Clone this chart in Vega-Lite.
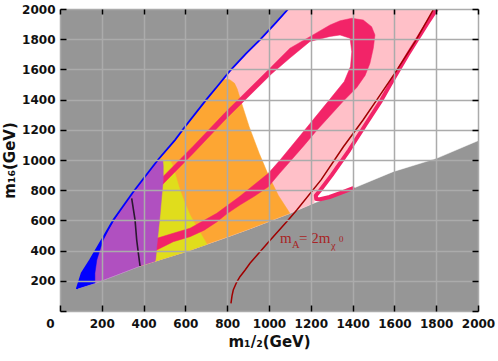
{
  "$schema": "https://vega.github.io/schema/vega-lite/v6.json",
  "width": 418,
  "height": 302,
  "autosize": {"type": "none"},
  "padding": {"left": 60, "top": 9, "right": 20, "bottom": 50},
  "background": "white",
  "config": {"view": {"stroke": null, "fill": "#969696"}},
  "datasets": {
    "allowed": [{"x":80,"y":146},{"x":104,"y":250},{"x":144,"y":338},{"x":200,"y":470},{"x":255,"y":603},{"x":351,"y":790},{"x":468,"y":1000},{"x":550,"y":1132},{"x":598,"y":1220},{"x":700,"y":1400},{"x":760,"y":1500},{"x":813,"y":1590},{"x":890,"y":1705},{"x":960,"y":1800},{"x":1030,"y":1905},{"x":1092,"y":2000},{"x":2000,"y":2000},{"x":2000,"y":1128},{"x":1802,"y":1011},{"x":1594,"y":923},{"x":1403,"y":813},{"x":1212,"y":713},{"x":1100,"y":647},{"x":909,"y":545},{"x":800,"y":490},{"x":606,"y":395},{"x":455,"y":330},{"x":383,"y":298},{"x":167,"y":183}],
    "pink": [{"x":351,"y":790},{"x":468,"y":1000},{"x":550,"y":1132},{"x":598,"y":1220},{"x":700,"y":1400},{"x":760,"y":1500},{"x":813,"y":1590},{"x":890,"y":1705},{"x":960,"y":1800},{"x":1030,"y":1905},{"x":1092,"y":2000},{"x":1803,"y":2000},{"x":1755,"y":1900},{"x":1710,"y":1800},{"x":1665,"y":1700},{"x":1622,"y":1600},{"x":1580,"y":1500},{"x":1538,"y":1397},{"x":1460,"y":1230},{"x":1384,"y":1066},{"x":1300,"y":900},{"x":1245,"y":800},{"x":1222,"y":760},{"x":1215,"y":716},{"x":1100,"y":647},{"x":909,"y":545},{"x":800,"y":490},{"x":606,"y":395},{"x":455,"y":330},{"x":383,"y":298}],
    "hole": [{"x":463,"y":481},{"x":542,"y":515},{"x":622,"y":548},{"x":750,"y":647},{"x":861,"y":760},{"x":997,"y":912},{"x":1053,"y":1000},{"x":1172,"y":1200},{"x":1290,"y":1400},{"x":1360,"y":1520},{"x":1390,"y":1620},{"x":1396,"y":1717},{"x":1388,"y":1806},{"x":1340,"y":1828},{"x":1292,"y":1818},{"x":1196,"y":1785},{"x":1100,"y":1675},{"x":1013,"y":1572},{"x":790,"y":1266},{"x":636,"y":1042},{"x":478,"y":820}],
    "orange": [{"x":351,"y":790},{"x":468,"y":1000},{"x":550,"y":1132},{"x":598,"y":1220},{"x":700,"y":1400},{"x":760,"y":1500},{"x":782,"y":1535},{"x":812,"y":1532},{"x":835,"y":1508},{"x":848,"y":1470},{"x":869,"y":1376},{"x":905,"y":1221},{"x":953,"y":1044},{"x":1000,"y":890},{"x":1045,"y":765},{"x":1100,"y":647},{"x":909,"y":545},{"x":800,"y":490},{"x":606,"y":395},{"x":455,"y":330},{"x":383,"y":298}],
    "yellow": [{"x":455,"y":1000},{"x":526,"y":1000},{"x":540,"y":960},{"x":550,"y":912},{"x":574,"y":801},{"x":598,"y":713},{"x":622,"y":636},{"x":654,"y":558},{"x":686,"y":483},{"x":703,"y":442},{"x":606,"y":395},{"x":455,"y":330}],
    "ring": [{"x":440,"y":842},{"x":478,"y":869},{"x":636,"y":1090},{"x":790,"y":1314},{"x":1013,"y":1620},{"x":1100,"y":1740},{"x":1196,"y":1817},{"x":1292,"y":1894},{"x":1340,"y":1922},{"x":1396,"y":1939},{"x":1451,"y":1927},{"x":1491,"y":1883},{"x":1507,"y":1828},{"x":1499,"y":1740},{"x":1483,"y":1640},{"x":1460,"y":1560},{"x":1420,"y":1480},{"x":1356,"y":1390},{"x":1290,"y":1290},{"x":1231,"y":1200},{"x":1170,"y":1100},{"x":1107,"y":1000},{"x":1050,"y":910},{"x":997,"y":823},{"x":930,"y":760},{"x":861,"y":702},{"x":800,"y":645},{"x":750,"y":590},{"x":690,"y":535},{"x":622,"y":492},{"x":542,"y":459},{"x":463,"y":404},{"x":440,"y":398},{"x":440,"y":478},{"x":463,"y":481},{"x":542,"y":515},{"x":622,"y":548},{"x":750,"y":647},{"x":861,"y":760},{"x":997,"y":912},{"x":1053,"y":1000},{"x":1172,"y":1200},{"x":1290,"y":1400},{"x":1360,"y":1520},{"x":1390,"y":1620},{"x":1396,"y":1717},{"x":1388,"y":1806},{"x":1340,"y":1828},{"x":1292,"y":1818},{"x":1196,"y":1785},{"x":1100,"y":1675},{"x":1013,"y":1572},{"x":790,"y":1266},{"x":636,"y":1042},{"x":478,"y":820},{"x":440,"y":800}],
    "strip": [{"x":1803,"y":2000},{"x":1755,"y":1900},{"x":1710,"y":1800},{"x":1665,"y":1700},{"x":1622,"y":1600},{"x":1580,"y":1500},{"x":1538,"y":1397},{"x":1460,"y":1230},{"x":1384,"y":1066},{"x":1300,"y":900},{"x":1245,"y":800},{"x":1224,"y":765},{"x":1226,"y":742},{"x":1245,"y":740},{"x":1290,"y":755},{"x":1340,"y":780},{"x":1400,"y":812}],
    "purple": [{"x":80,"y":146},{"x":104,"y":250},{"x":144,"y":338},{"x":200,"y":470},{"x":255,"y":603},{"x":351,"y":790},{"x":468,"y":1000},{"x":492,"y":1000},{"x":494,"y":960},{"x":494,"y":868},{"x":486,"y":750},{"x":478,"y":625},{"x":470,"y":520},{"x":463,"y":426},{"x":458,"y":345},{"x":455,"y":330},{"x":383,"y":298},{"x":167,"y":183}],
    "blue": [{"x":80,"y":146},{"x":104,"y":250},{"x":144,"y":338},{"x":200,"y":470},{"x":255,"y":603},{"x":285,"y":661},{"x":255,"y":595},{"x":231,"y":536},{"x":207,"y":470},{"x":191,"y":404},{"x":176,"y":338},{"x":167,"y":250},{"x":167,"y":183}],
    "upper": [{"x":80,"y":146},{"x":104,"y":250},{"x":144,"y":338},{"x":200,"y":470},{"x":255,"y":603},{"x":351,"y":790},{"x":468,"y":1000},{"x":550,"y":1132},{"x":598,"y":1220},{"x":700,"y":1400},{"x":760,"y":1500},{"x":813,"y":1590},{"x":890,"y":1705},{"x":960,"y":1800},{"x":1030,"y":1905},{"x":1092,"y":2000}],
    "black": [{"x":343,"y":746},{"x":359,"y":603},{"x":367,"y":470},{"x":375,"y":382},{"x":383,"y":298}],
    "darkred": [{"x":818,"y":50},{"x":823,"y":100},{"x":829,"y":139},{"x":845,"y":190},{"x":861,"y":227},{"x":885,"y":270},{"x":909,"y":316},{"x":1000,"y":460},{"x":1092,"y":603},{"x":1133,"y":669},{"x":1250,"y":870},{"x":1356,"y":1088},{"x":1450,"y":1265},{"x":1515,"y":1397},{"x":1600,"y":1570},{"x":1700,"y":1785},{"x":1788,"y":2000}],
    "lowerline": [{"x":80,"y":146},{"x":167,"y":183},{"x":383,"y":298},{"x":455,"y":330},{"x":606,"y":395},{"x":800,"y":490},{"x":909,"y":545},{"x":1100,"y":647},{"x":1212,"y":713},{"x":1403,"y":813},{"x":1594,"y":923},{"x":1802,"y":1011},{"x":2000,"y":1128}],
    "txtBig": [{"x":1053,"y":450,"t":"m"},{"x":1144,"y":450,"t":"= 2m"}],
    "txtSub": [{"x":1110,"y":417,"t":"A"},{"x":1297,"y":411,"t":"χ"}],
    "txtSup": [{"x":1335,"y":457,"t":"0"}]
  },
  "encoding": {
    "x": {"field": "x", "type": "quantitative", "scale": {"domain": [0, 2000], "nice": false, "zero": false}, "axis": null},
    "y": {"field": "y", "type": "quantitative", "scale": {"domain": [0, 2000], "nice": false, "zero": false}, "axis": null}
  },
  "resolve": {"axis": {"x": "independent", "y": "independent"}},
  "layer": [
    {
      "data": {"name": "allowed"},
      "mark": {"type": "line", "filled": true, "fill": "#ffffff", "stroke": "#ffffff", "strokeWidth": 0.5, "clip": true},
      "encoding": {
        "x": {"field": "x", "type": "quantitative", "scale": {"domain": [0, 2000], "nice": false, "zero": false},
          "axis": {"orient": "bottom", "values": [0,200,400,600,800,1000,1200,1400,1600,1800,2000], "format": "d", "domain": false, "grid": true, "gridColor": "#ababab", "gridWidth": 1.5, "ticks": true, "tickColor": "#000000", "tickWidth": 1.5, "tickSize": -6, "labelPadding": 13, "labelFont": "DejaVu Sans", "labelFontSize": 12, "labelFontWeight": "bold", "labelColor": "#111111", "labelFlush": false, "labelOverlap": false, "labelOffset": {"condition": {"test": "datum.value == 0", "value": -10}, "value": 0}, "title": "m₁/₂(GeV)", "titleFont": "DejaVu Sans", "titleFontSize": 15, "titleFontWeight": "bold", "titleColor": "#111111", "titlePadding": 5, "zindex": 1}},
        "y": {"field": "y", "type": "quantitative", "scale": {"domain": [0, 2000], "nice": false, "zero": false},
          "axis": {"orient": "left", "values": [0,200,400,600,800,1000,1200,1400,1600,1800,2000], "format": "d", "labelExpr": "datum.value == 0 ? '' : datum.label", "domain": false, "grid": true, "gridColor": "#ababab", "gridWidth": 1.5, "ticks": true, "tickColor": "#000000", "tickWidth": 1.5, "tickSize": -6, "labelPadding": 11, "labelFont": "DejaVu Sans", "labelFontSize": 12, "labelFontWeight": "bold", "labelColor": "#111111", "labelFlush": false, "labelOverlap": false, "title": "m₁₆(GeV)", "titleFont": "DejaVu Sans", "titleFontSize": 15, "titleFontWeight": "bold", "titleColor": "#111111", "titlePadding": 4, "zindex": 1}},
        "order": {"value": null}
      }
    },
    {
      "data": {"name": "pink"},
      "mark": {"type": "line", "filled": true, "fill": "#ffc0c8", "stroke": "#ffc0c8", "strokeWidth": 0.5, "clip": true},
      "encoding": {"order": {"value": null}}
    },
    {
      "data": {"name": "hole"},
      "mark": {"type": "line", "filled": true, "fill": "#ffffff", "stroke": "#ffffff", "strokeWidth": 0.5, "clip": true},
      "encoding": {"order": {"value": null}}
    },
    {
      "data": {"name": "orange"},
      "mark": {"type": "line", "filled": true, "fill": "#fda633", "stroke": "#fda633", "strokeWidth": 0.5, "clip": true},
      "encoding": {"order": {"value": null}}
    },
    {
      "data": {"name": "yellow"},
      "mark": {"type": "line", "filled": true, "fill": "#e0dd1c", "stroke": "#e0dd1c", "strokeWidth": 0.5, "clip": true},
      "encoding": {"order": {"value": null}}
    },
    {
      "data": {"name": "ring"},
      "mark": {"type": "line", "filled": true, "fill": "#f22468", "stroke": "#f22468", "strokeWidth": 0.5, "clip": true},
      "encoding": {"order": {"value": null}}
    },
    {
      "data": {"name": "strip"},
      "mark": {"type": "line", "stroke": "#f22468", "strokeWidth": 4, "strokeJoin": "round", "strokeCap": "round", "clip": true},
      "encoding": {"order": {"value": null}}
    },
    {
      "data": {"name": "purple"},
      "mark": {"type": "line", "filled": true, "fill": "#b050c0", "stroke": "#b050c0", "strokeWidth": 0.5, "clip": true},
      "encoding": {"order": {"value": null}}
    },
    {
      "data": {"name": "blue"},
      "mark": {"type": "line", "filled": true, "fill": "#0000ff", "stroke": "#0000ff", "strokeWidth": 0.5, "clip": true},
      "encoding": {"order": {"value": null}}
    },
    {
      "data": {"name": "upper"},
      "mark": {"type": "line", "stroke": "#0000ff", "strokeWidth": 1.8, "clip": true},
      "encoding": {"order": {"value": null}}
    },
    {
      "data": {"name": "black"},
      "mark": {"type": "line", "stroke": "#2a1830", "strokeWidth": 1.6, "clip": true},
      "encoding": {"order": {"value": null}}
    },
    {
      "data": {"name": "darkred"},
      "mark": {"type": "line", "stroke": "#a00000", "strokeWidth": 1.5, "clip": true},
      "encoding": {"order": {"value": null}}
    },
    {
      "data": {"name": "txtBig"},
      "mark": {"type": "text", "font": "Liberation Serif", "fontSize": 15, "color": "#a82424", "align": "left", "baseline": "alphabetic"},
      "encoding": {"text": {"field": "t"}}
    },
    {
      "data": {"name": "txtSub"},
      "mark": {"type": "text", "font": "Liberation Serif", "fontSize": 10.5, "color": "#a82424", "align": "left", "baseline": "alphabetic"},
      "encoding": {"text": {"field": "t"}}
    },
    {
      "data": {"name": "txtSup"},
      "mark": {"type": "text", "font": "Liberation Serif", "fontSize": 9, "color": "#a82424", "align": "left", "baseline": "alphabetic"},
      "encoding": {"text": {"field": "t"}}
    },
    {
      "data": {"name": "lowerline"},
      "mark": {"type": "line", "strokeOpacity": 0},
      "encoding": {
        "x": {"field": "x", "type": "quantitative", "scale": {"domain": [0, 2000], "nice": false, "zero": false},
          "axis": {"orient": "top", "values": [0,200,400,600,800,1000,1200,1400,1600,1800,2000], "labels": false, "grid": false, "domain": false, "ticks": true, "tickColor": "#000000", "tickWidth": 1.5, "tickSize": -5, "title": null, "zindex": 1}},
        "y": {"field": "y", "type": "quantitative", "scale": {"domain": [0, 2000], "nice": false, "zero": false},
          "axis": {"orient": "right", "values": [0,200,400,600,800,1000,1200,1400,1600,1800,2000], "labels": false, "grid": false, "domain": false, "ticks": true, "tickColor": "#000000", "tickWidth": 1.5, "tickSize": -6, "title": null, "zindex": 1}},
        "order": {"value": null}
      }
    }
  ]
}
